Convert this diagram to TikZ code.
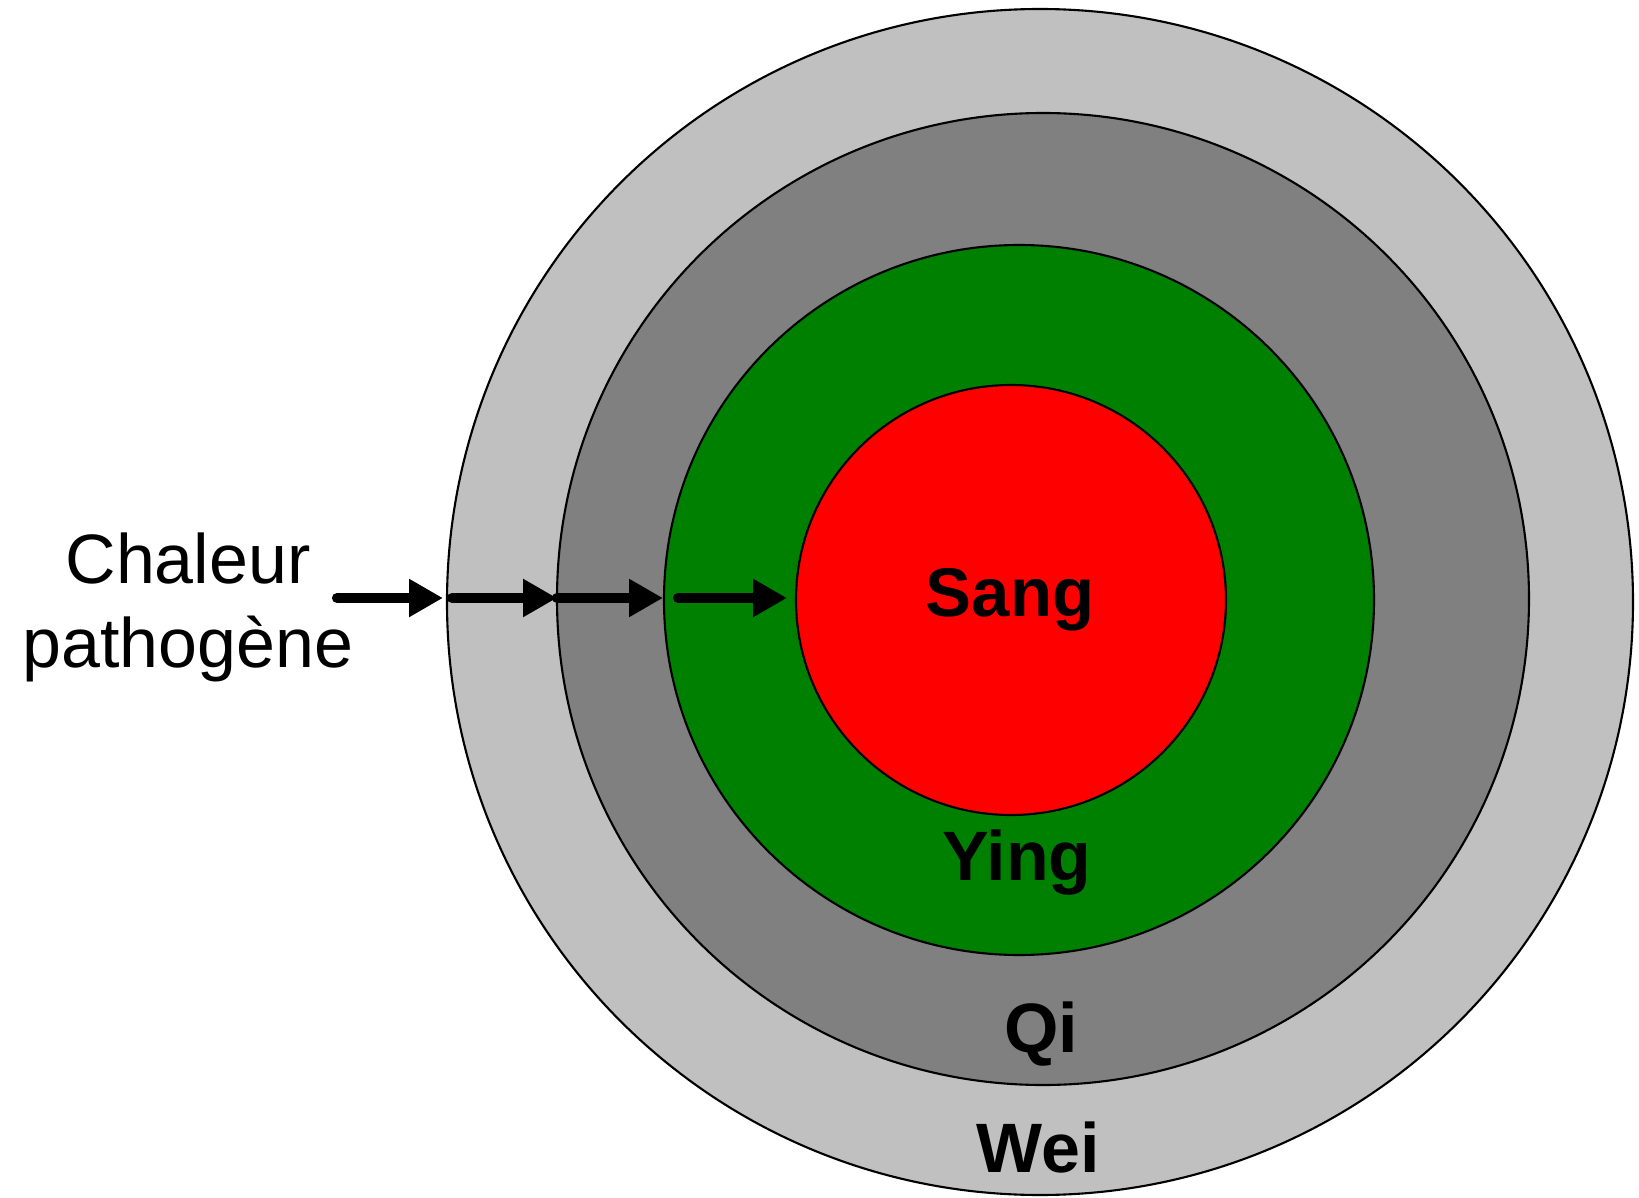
\documentclass[tikz,border=0pt]{standalone}
\usepackage{fontspec}
\setmainfont{Liberation Sans}
\usepackage{xcolor}
\usepackage{tikz}
\usetikzlibrary{arrows.meta}
\definecolor{weigray}{HTML}{C0C0C0}
\definecolor{qigray}{HTML}{808080}
\definecolor{yinggreen}{HTML}{008000}
\definecolor{sangred}{HTML}{FF0000}
\tikzset{
  layer/.style={draw=black,line width=0.6pt},
  flow/.style={-{Triangle[length=3.4mm,width=3.6mm]},line width=2.9pt,line cap=round},
  zone/.style={font=\fontsize{19.9}{24}\selectfont\bfseries,anchor=base,inner sep=0pt},
  heat/.style={font=\fontsize{19.9}{24}\selectfont,anchor=base,inner sep=0pt}
}

\begin{document}
\begin{tikzpicture}
\useasboundingbox (0,0) rectangle (16.39,11.97);
\fill[weigray,layer] (10.40,5.95) circle (5.93);
\fill[qigray,layer] (10.43,5.98) circle (4.86);
\fill[yinggreen,layer] (10.19,5.97) circle (3.55);
\fill[sangred,layer] (10.11,5.97) circle (2.15);
\node[zone] (sang) at (10.10,5.80) {\fontsize{19.6}{24}\selectfont Sang};
\node[zone] (ying) at (10.17,3.17) {Ying};
\node[zone] (qi) at (10.41,1.45) {Qi};
\node[zone] (wei) at (10.38,0.25) {Wei};
\node[heat] (chaleur) at (1.88,6.14) {Chaleur};
\node[heat] (patho) at (1.88,5.30) {pathogène};
\coordinate (p0) at (3.37,5.99); \coordinate (p1) at (4.43,5.99);
\coordinate (q1) at (4.52,5.99); \coordinate (p2) at (5.57,5.99);
\coordinate (p3) at (6.63,5.99);
\coordinate (q3) at (6.78,5.99); \coordinate (p4) at (7.87,5.99);
\draw[flow] (p0)--(p1); \draw[flow] (q1)--(p2);
\draw[flow] (p2)--(p3); \draw[flow] (q3)--(p4);
\end{tikzpicture}
\end{document}
